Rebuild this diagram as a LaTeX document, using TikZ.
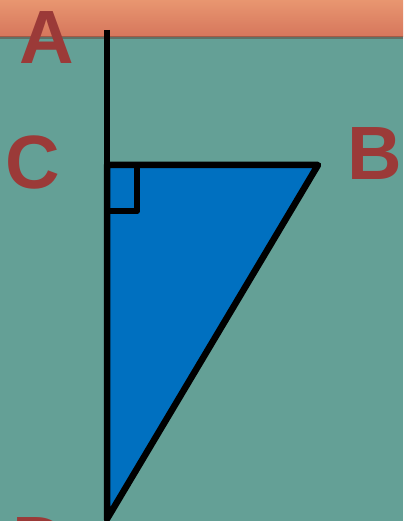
\documentclass[tikz,border=0pt]{standalone}
\usepackage{fontspec}
\setmainfont{Liberation Sans}
\usepackage{tkz-euclide}
\definecolor{BoardClr}{RGB}{100,160,150}
\definecolor{WoodClr}{RGB}{232,150,112}
\definecolor{WoodDark}{RGB}{214,118,92}
\definecolor{ShapeClr}{RGB}{0,112,192}
\definecolor{LetterClr}{RGB}{155,58,56}

\begin{document}
\begin{tikzpicture}[x=.02cm,y=.02cm,
  lbl/.style={text=LetterClr,font=\fontsize{43}{43}\selectfont\bfseries,inner sep=0pt}]
\useasboundingbox (0,0) rectangle (403,521);
\tkzSetUpLine[line width=3.7pt,color=black]

% board and wooden ledge
\fill[BoardClr] (0,0) rectangle (403,521);
\shade[top color=WoodClr,bottom color=WoodDark] (0,484) rectangle (403,521);
\fill[black!60!WoodDark,opacity=.4] (0,482) rectangle (403,485);

\tkzDefPoints{107/491/A,107/356/C,318/356/B,107/2/D}
\tkzDefPoints{137/356/R1,137/310/R2,107/310/R3}

\tkzFillPolygon[fill=ShapeClr](C,B,D)
\tkzDrawSegment[line cap=butt](A,D)
\tkzDrawPolygon[line join=round](C,B,D)
\tkzDrawSegments[line width=3.2pt](R1,R2 R2,R3)

\node[lbl] (lA) at (47,483) {A};
\node[lbl] (lC) at (33,359) {C};
\node[lbl] (lB) at (375,367) {B};
\node[lbl] (lD) at (40,-23) {D};

\end{tikzpicture}
\end{document}
